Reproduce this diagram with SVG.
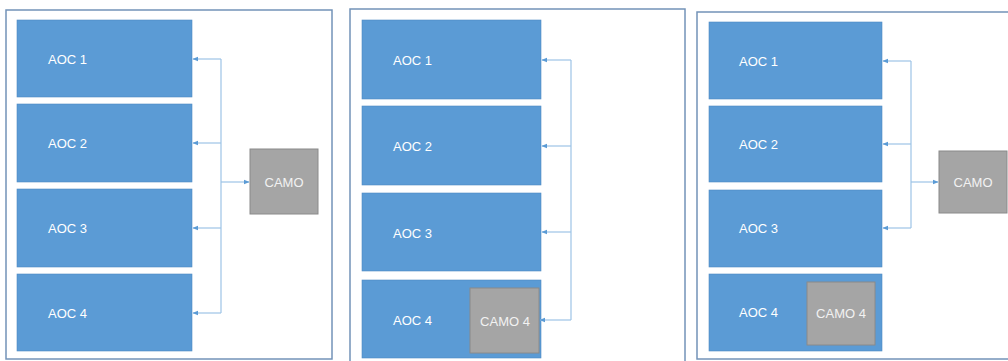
<svg xmlns="http://www.w3.org/2000/svg" width="1008" height="361" viewBox="0 0 1008 361">
<defs>
<style>
.frame{fill:#fff;stroke:#7393b8;stroke-width:1.5}
.aoc{fill:#5b9bd5;stroke:#4f8ac2;stroke-width:0.6}
.camo{fill:#a5a5a5;stroke:#8a8a8a;stroke-width:1}
.lbl{font-family:"Liberation Sans",Arial,sans-serif;font-size:13px;fill:#ffffff}
.lblc{font-family:"Liberation Sans",Arial,sans-serif;font-size:13px;fill:#f2f2f2;text-anchor:middle}
.conn{fill:none;stroke:#9dc3e6;stroke-width:1.2}
</style>
<marker id="ah" viewBox="0 0 10 10" refX="9" refY="5" markerWidth="5" markerHeight="5" orient="auto" markerUnits="strokeWidth">
<path d="M0,1 L10,5 L0,9 z" fill="#5b9bd5"/>
</marker>
</defs>
<rect width="1008" height="361" fill="#fff"/>

<g id="panel1">
<rect class="frame" x="6" y="10" width="326" height="349"/>
</g>
<g id="panel2">
<rect class="frame" x="350" y="9" width="335" height="360"/>
</g>
<g id="panel3">
<rect class="frame" x="697" y="12" width="320" height="347"/>
</g>

<g id="p1-aoc1"><rect class="aoc" x="17" y="20" width="175" height="77"/><text class="lbl" x="48" y="64">AOC 1</text></g>
<g id="p1-aoc2"><rect class="aoc" x="17" y="104" width="175" height="78"/><text class="lbl" x="48" y="148">AOC 2</text></g>
<g id="p1-aoc3"><rect class="aoc" x="17" y="189" width="175" height="78"/><text class="lbl" x="48" y="233">AOC 3</text></g>
<g id="p1-aoc4"><rect class="aoc" x="17" y="274" width="175" height="77"/><text class="lbl" x="48" y="318">AOC 4</text></g>
<g id="p1-camo"><rect class="camo" x="250" y="149" width="68" height="65"/><text class="lblc" x="284" y="187">CAMO</text></g>

<g id="p2-aoc1"><rect class="aoc" x="362" y="20" width="179" height="79"/><text class="lbl" x="393" y="65">AOC 1</text></g>
<g id="p2-aoc2"><rect class="aoc" x="362" y="106" width="179" height="79"/><text class="lbl" x="393" y="151">AOC 2</text></g>
<g id="p2-aoc3"><rect class="aoc" x="362" y="193" width="179" height="78"/><text class="lbl" x="393" y="238">AOC 3</text></g>
<g id="p2-aoc4"><rect class="aoc" x="362" y="280" width="179" height="78"/><text class="lbl" x="393" y="325">AOC 4</text></g>
<g id="p2-camo4"><rect class="camo" x="470" y="288" width="69" height="65"/><text class="lblc" x="505" y="326">CAMO 4</text></g>

<g id="p3-aoc1"><rect class="aoc" x="709" y="22" width="173" height="77"/><text class="lbl" x="739" y="66">AOC 1</text></g>
<g id="p3-aoc2"><rect class="aoc" x="709" y="106" width="173" height="76"/><text class="lbl" x="739" y="149">AOC 2</text></g>
<g id="p3-aoc3"><rect class="aoc" x="709" y="190" width="173" height="77"/><text class="lbl" x="739" y="233">AOC 3</text></g>
<g id="p3-aoc4"><rect class="aoc" x="709" y="274" width="173" height="77"/><text class="lbl" x="739" y="317">AOC 4</text></g>
<g id="p3-camo4"><rect class="camo" x="807" y="282" width="68" height="63"/><text class="lblc" x="841" y="318">CAMO 4</text></g>
<g id="p3-camo"><rect class="camo" x="939" y="151" width="68" height="62"/><text class="lblc" x="973" y="187">CAMO</text></g>

<g id="connectors">
<path class="conn" d="M221,59 V313"/>
<path class="conn" d="M221,59 H193" marker-end="url(#ah)"/>
<path class="conn" d="M221,143 H193" marker-end="url(#ah)"/>
<path class="conn" d="M221,228 H193" marker-end="url(#ah)"/>
<path class="conn" d="M221,313 H193" marker-end="url(#ah)"/>
<path class="conn" d="M221,182 H249" marker-end="url(#ah)"/>

<path class="conn" d="M571,60 V320"/>
<path class="conn" d="M571,60 H542" marker-end="url(#ah)"/>
<path class="conn" d="M571,146 H542" marker-end="url(#ah)"/>
<path class="conn" d="M571,232 H542" marker-end="url(#ah)"/>
<path class="conn" d="M571,320 H540" marker-end="url(#ah)"/>

<path class="conn" d="M911,61 V228"/>
<path class="conn" d="M911,61 H883" marker-end="url(#ah)"/>
<path class="conn" d="M911,144 H883" marker-end="url(#ah)"/>
<path class="conn" d="M911,228 H883" marker-end="url(#ah)"/>
<path class="conn" d="M911,182 H938" marker-end="url(#ah)"/>
</g>
</svg>
